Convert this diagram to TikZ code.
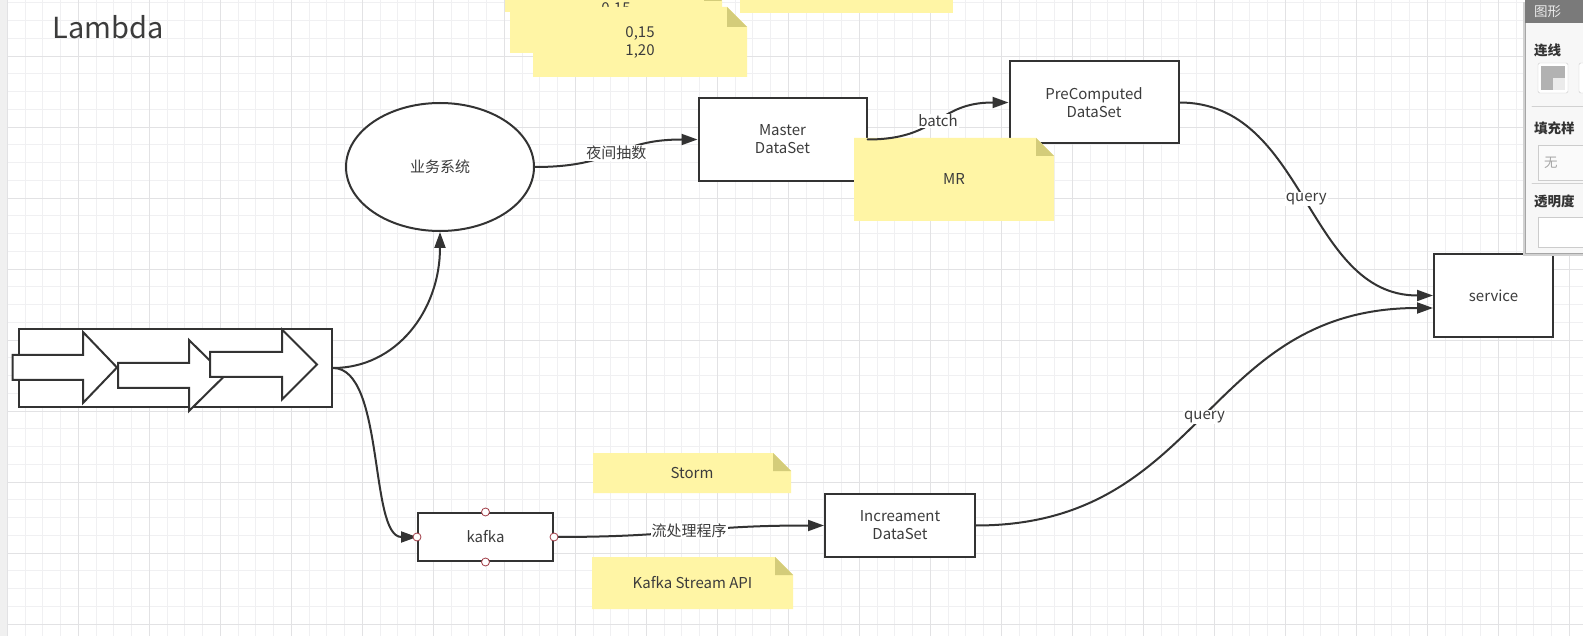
\documentclass[tikz,border=0pt]{standalone}
\usepackage{fontspec}
\setmainfont{Noto Sans CJK SC}
\usetikzlibrary{arrows.meta,shapes.geometric}

\definecolor{linecol}{RGB}{51,51,51}
\definecolor{textcol}{RGB}{60,60,60}
\definecolor{notefill}{RGB}{255,245,165}
\definecolor{notefold}{RGB}{212,204,122}
\definecolor{gridminor}{RGB}{240,240,242}
\definecolor{gridmajor}{RGB}{226,226,228}
\definecolor{portcol}{RGB}{160,60,70}

\newcommand\nodefont{\fontsize{15}{18}\selectfont}
\newcommand\titlefont{\fontsize{29}{34}\selectfont}
\newcommand\panelfont{\fontsize{13.5}{16}\selectfont}

\tikzset{
  box/.style={draw=linecol, line width=2pt, fill=white, text=textcol,
    font=\nodefont, align=center, inner sep=0pt},
  flow/.style={draw=linecol, line width=2pt,
    -{Triangle[length=16pt,width=11pt]}},
  lbl/.style={fill=white, inner sep=1pt, text=textcol, font=\nodefont},
  port/.style={draw=portcol, fill=white, line width=0.8pt},
  bigarrow/.style={draw=linecol, line width=2pt, fill=white, line join=miter},
  note/.style={inner sep=0pt, text=textcol, font=\nodefont, align=center,
    path picture={
      \fill[notefill] (path picture bounding box.south west)
        -- (path picture bounding box.north west)
        -- ([xshift=-#1pt]path picture bounding box.north east)
        -- ([yshift=-#1pt]path picture bounding box.north east)
        -- (path picture bounding box.south east) -- cycle;
      \fill[notefold] ([xshift=-#1pt]path picture bounding box.north east)
        -- ([xshift=-#1pt,yshift=-#1pt]path picture bounding box.north east)
        -- ([yshift=-#1pt]path picture bounding box.north east) -- cycle;}},
  note/.default=18,
  plainnote/.style={fill=notefill, inner sep=0pt, text=textcol, font=\nodefont}
}

\begin{document}
\begin{tikzpicture}[x=1pt, y=-1pt, line cap=round]
  \useasboundingbox (0,0) rectangle (1583,636);
  \clip (0,0) rectangle (1583,636);
  \fill[white] (0,0) rectangle (1583,636);

  % grid
  \foreach \i in {0,...,89}
    \draw[gridminor, line width=0.8pt] (7.3+17.75*\i,0) -- (7.3+17.75*\i,636);
  \foreach \i in {0,...,36}
    \draw[gridminor, line width=0.8pt] (0,2.75+17.75*\i) -- (1583,2.75+17.75*\i);
  \foreach \i in {0,...,22}
    \draw[gridmajor, line width=0.8pt] (7.3+71*\i,0) -- (7.3+71*\i,636);
  \foreach \i in {0,...,9}
    \draw[gridmajor, line width=0.8pt] (0,-15+71*\i) -- (1583,-15+71*\i);
  \fill[gray!12] (0,0) rectangle (7,636);

  \node[text=textcol, font=\titlefont] (title) at (108,27) {Lambda};

  % top notes
  \node[plainnote, minimum width=210pt, minimum height=42pt] (noteA) at (610,-9) {};
  \node[note, minimum width=212pt, minimum height=70pt, text depth=19pt] (noteB) at (616,18) {0,15};
  \node[note=20, minimum width=214pt, minimum height=70pt] (noteC) at (640,42) {0,15\\1,20};
  \node[plainnote, minimum width=213pt, minimum height=50pt] (noteD) at (846.5,-12) {};

  % source block
  \node[box, minimum width=313pt, minimum height=78pt] (src) at (175.5,368) {};
  \foreach \xa/\xb/\xc/\yc/\hh in {12.7/83/117/367.5/35.5, 118/189/225/375.5/35.5, 210/282/317/364.5/35}
    \draw[bigarrow] (\xa,\yc-12.5) -- (\xb,\yc-12.5) -- (\xb,\yc-\hh) -- (\xc,\yc)
      -- (\xb,\yc+\hh) -- (\xb,\yc+12.5) -- (\xa,\yc+12.5) -- cycle;

  % nodes
  \node[box, ellipse, minimum width=188pt, minimum height=128pt] (biz) at (440,167) {业务系统};
  \node[box, minimum width=168pt, minimum height=83pt] (master) at (782.5,139.5) {Master\\DataSet};
  \node[box, minimum width=169pt, minimum height=82pt] (precomp) at (1094,102.5) {PreComputed\\DataSet};
  \node[box, minimum width=119pt, minimum height=83pt] (service) at (1493.5,295.5) {service};
  \node[box, minimum width=135pt, minimum height=48pt] (kafka) at (485.5,537) {kafka};
  \node[box, minimum width=150pt, minimum height=63pt] (incr) at (900,525.5) {Increament\\DataSet};

  \node[note, minimum width=200pt, minimum height=83pt] (mr) at (954,179.5) {MR};
  \node[note, minimum width=198pt, minimum height=40pt] (storm) at (692,473) {Storm};
  \node[note, minimum width=201pt, minimum height=52pt] (ksapi) at (692.5,583) {Kafka Stream API};

  % connectors
  \draw[flow] (src.east) .. controls +(63,0) and +(0,79) .. (biz.south);
  \draw[flow] (src.east) .. controls +(52,0) and +(-48,0) .. (kafka.west);
  \draw[flow] (biz.east) .. controls +(82,0) and +(-82,0) .. (master.west)
    node[lbl, pos=0.5] {夜间抽数};
  \draw[flow] (master.east) .. controls +(72,0) and +(-72,0) .. (precomp.west)
    node[lbl, pos=0.5] {batch};
  \draw[flow] (precomp.east) .. controls +(127,0) and +(-127,0) .. (service.west)
    node[lbl, pos=0.5] {query};
  \draw[flow] (incr.east) .. controls +(230,0) and +(-230,0) .. ([yshift=-12.5pt]service.west)
    node[lbl, pos=0.5] {query};
  \draw[flow] (kafka.east) .. controls +(136,0) and +(-136,0) .. (incr.west)
    node[lbl, pos=0.5] {流处理程序};
  \foreach \a in {north,south,east,west}
    \draw[port] (kafka.\a) circle (4pt);

  % side panel
  \fill[black!18] (1523,2) rectangle (1583,256);
  \fill[white!97!black] (1525,0) rectangle (1583,253);
  \draw[black!35, line width=0.8pt] (1525,0) -- (1525,253) -- (1583,253);
  \fill[black!52] (1525,0) rectangle (1583,23);
  \node[anchor=west, text=white!92!black, font=\panelfont, inner sep=0pt] (ptitle) at (1534,11.5) {图形};
  \node[anchor=west, text=black!80, font=\panelfont\bfseries, inner sep=0pt] (pline) at (1534,50) {连线};
  \draw[black!20, fill=white, rounded corners=1.5pt] (1538,63) rectangle (1568,93);
  \fill[black!30] (1541,66) rectangle (1565,90);
  \fill[white!92!black] (1553,78) rectangle (1565,90);
  \draw[black!20, fill=white, rounded corners=1.5pt] (1579,63) rectangle (1600,93);
  \draw[black!18, line width=0.8pt] (1532,106) -- (1583,106);
  \node[anchor=west, text=black!80, font=\panelfont\bfseries, inner sep=0pt] (pfill) at (1534,128) {填充样};
  \draw[black!20, fill=white!98!black] (1538,145) rectangle (1600,180);
  \node[anchor=west, text=black!35, font=\panelfont, inner sep=0pt] (pnone) at (1544,162.5) {无};
  \draw[black!18, line width=0.8pt] (1532,183) -- (1583,183);
  \node[anchor=west, text=black!80, font=\panelfont\bfseries, inner sep=0pt] (palpha) at (1534,201) {透明度};
  \draw[black!20, fill=white] (1538,217) rectangle (1600,247);
\end{tikzpicture}
\end{document}
